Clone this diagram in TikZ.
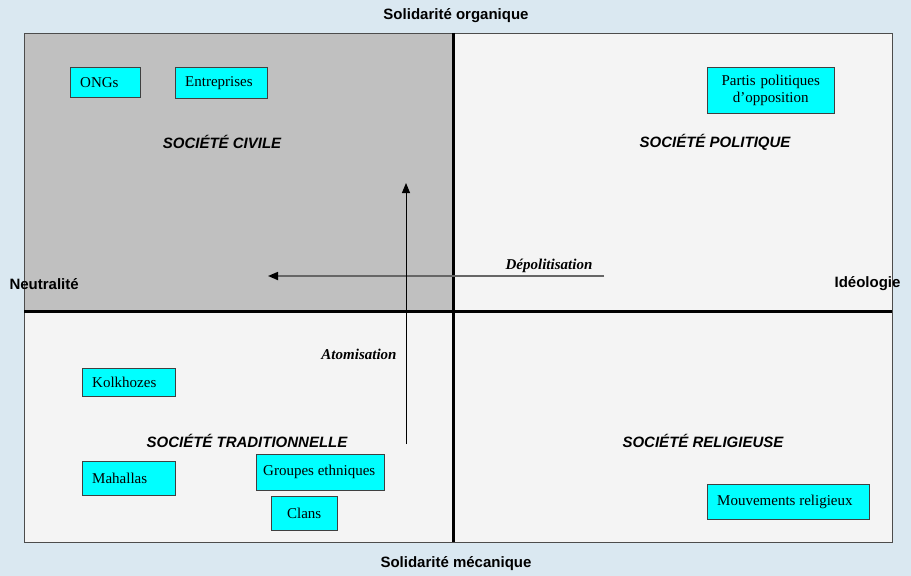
\documentclass[tikz,border=0pt]{standalone}
\usepackage{fontspec}
\setmainfont{Liberation Serif}
\setsansfont{Liberation Sans}
\usetikzlibrary{arrows.meta}
\definecolor{bgblue}{HTML}{DAE8F1}
\definecolor{quadgray}{HTML}{C0C0C0}
\definecolor{quadlight}{HTML}{F4F4F4}
\definecolor{orgcyan}{HTML}{00FFFF}
\begin{document}
\begin{tikzpicture}[x=1pt,y=-1pt,
    org/.style={draw=black!75,fill=orgcyan,font=\fontsize{15}{17}\selectfont,inner xsep=10pt,inner ysep=0pt,align=flush left,anchor=north west},
    axislabel/.style={font=\sffamily\bfseries\fontsize{15}{17}\selectfont},
    quadlabel/.style={font=\sffamily\bfseries\itshape\fontsize{15}{17}\selectfont},
    flowlabel/.style={font=\bfseries\itshape\fontsize{15}{17}\selectfont}]
  \fill[bgblue] (0,0) rectangle (911,576);
  \useasboundingbox (0,0) rectangle (911,576);
  \fill[quadlight] (24,33) rectangle (892,542);
  \fill[quadgray] (24,33) rectangle (453,311);
  \draw[black!70,line width=1pt] (24,33) rectangle (892,542);
  \draw[line width=3pt] (453,33) -- (453,542);
  \draw[line width=3pt] (24,311) -- (892,311);
  % axes
  \node[axislabel] (organique) at (456,16) {Solidarité organique};
  \node[axislabel] (mecanique) at (456,564) {Solidarité mécanique};
  \node[axislabel,anchor=west] (neutralite) at (6,284) {Neutralité};
  \node[axislabel,anchor=east] (ideologie) at (904,284) {Idéologie};
  % quadrants
  \node[quadlabel] (civile) at (222,142) {SOCIÉTÉ CIVILE};
  \node[quadlabel] (politique) at (715,142) {SOCIÉTÉ POLITIQUE};
  \node[quadlabel] (traditionnelle) at (247,441) {SOCIÉTÉ TRADITIONNELLE};
  \node[quadlabel] (religieuse) at (703,441) {SOCIÉTÉ RELIGIEUSE};
  % actors
  \node[org,text width=50pt,minimum height=30pt] (ongs) at (70,67) {ONGs};
  \node[org,text width=72pt,minimum height=31pt] (entreprises) at (175,67) {Entreprises};
  \node[org,text width=107pt,minimum height=46pt,align=center] (partis) at (707,67) {Partis politiques\\d’opposition};
  \node[org,text width=73pt,minimum height=28pt] (kolkhozes) at (82,368) {Kolkhozes};
  \node[org,text width=73pt,minimum height=34pt] (mahallas) at (82,461) {Mahallas};
  \node[org,text width=114pt,inner xsep=7pt,minimum height=36pt] (groupes) at (256,454) {Groupes ethniques};
  \node[org,text width=46pt,minimum height=34pt,align=center] (clans) at (271,496) {Clans};
  \node[org,text width=142pt,minimum height=35pt] (mouvements) at (707,484) {Mouvements religieux};
  % flows
  \coordinate (depolA) at (604,276);
  \coordinate (depolB) at (268,276);
  \draw[-{Triangle[length=10pt,width=8pt,color=black]},line width=1.7pt,draw=black!60] (depolA) -- (depolB);
  \node[flowlabel] (depolitisation) at (549,266) {Dépolitisation};
  \coordinate (atomA) at (406,444);
  \coordinate (atomB) at (406,183);
  \draw[-{Triangle[length=10pt,width=8pt]},line width=1pt] (atomA) -- (atomB);
  \node[flowlabel] (atomisation) at (359,354) {Atomisation};
\end{tikzpicture}
\end{document}
